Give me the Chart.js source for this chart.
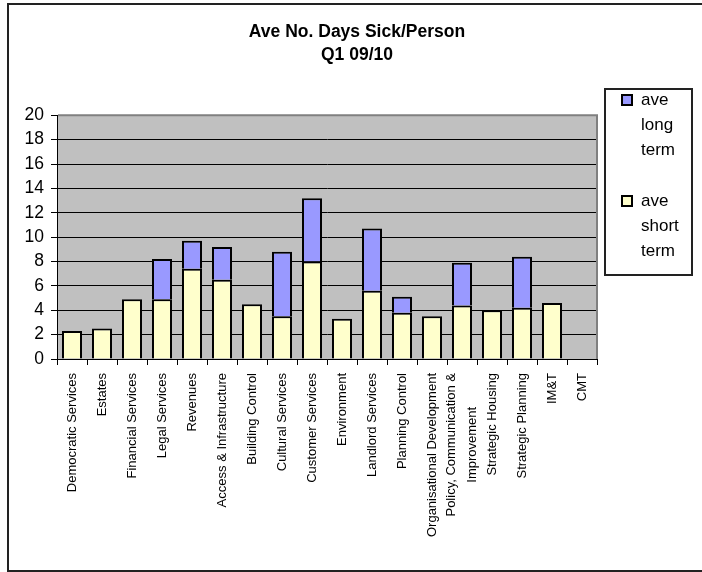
<!DOCTYPE html>
<html lang="en">
<head>
    <meta charset="UTF-8">
    <title>Ave No. Days Sick/Person</title>
    <script src="https://cdn.jsdelivr.net/npm/chart.js"></script>
    <style>
        html, body { margin: 0; padding: 0; background: #fff; }
        canvas { display: block; }
    </style>
</head>
<body>
    <canvas id="chartCanvas" width="702" height="572"></canvas>

    <script>
        // Service areas (multi-line names are arrays)
        const services = [
            "Democratic Services", "Estates", "Financial Services", "Legal Services",
            "Revenues", "Access & Infrastructure", "Building Control", "Cultural Services",
            "Customer Services", "Environment", "Landlord Services", "Planning Control",
            "Organisational Development", ["Policy, Communication &", "Improvement"],
            "Strategic Housing", "Strategic Planning", "IM&T", "CMT"
        ];

        // average days per person, Q1 09/10
        const shortTerm = [2.3, 2.5, 4.9, 4.9, 7.4, 6.5, 4.5, 3.5, 8.0, 3.3, 5.6, 3.8, 3.5, 4.4, 4.0, 4.2, 4.6, 0];
        const longTerm  = [0,   0,   0,   3.3, 2.3, 2.7, 0,   5.3, 5.2, 0,   5.1, 1.3, 0,   3.5, 0,   4.2, 0,   0];

        const yTicks = [0, 2, 4, 6, 8, 10, 12, 14, 16, 18, 20];

        const titleLines = ["Ave No. Days Sick/Person", "Q1 09/10"];
        const legendLines = {
            long: ["ave", "long", "term"],
            short: ["ave", "short", "term"]
        };

        const FONT = "'Liberation Sans', Arial, sans-serif";
        const SHORT_COLOR = '#FFFFCC';
        const LONG_COLOR = '#9999FF';

        // background, frame, legend and rotated category names
        const sheetPlugin = {
            id: 'sheet',
            beforeDraw(chart) {
                const { ctx, chartArea: a } = chart;
                ctx.save();
                ctx.fillStyle = '#fff';
                ctx.fillRect(0, 0, chart.width, chart.height);
                ctx.fillStyle = '#C0C0C0';
                ctx.fillRect(a.left, a.top, a.right - a.left, a.bottom - a.top);
                ctx.restore();
            },
            afterDraw(chart) {
                const { ctx, chartArea: a } = chart;
                ctx.save();

                // plot area edge, top and right
                ctx.strokeStyle = '#808080';
                ctx.lineWidth = 2;
                ctx.beginPath();
                ctx.moveTo(a.left + 1, a.top);
                ctx.lineTo(a.right, a.top);
                ctx.lineTo(a.right, a.bottom);
                ctx.stroke();

                // outer frame
                ctx.strokeStyle = '#222';
                ctx.lineWidth = 2;
                ctx.strokeRect(8, 4, 720, 567);

                // category names, read bottom to top
                const xs = chart.scales.x;
                ctx.fillStyle = '#000';
                ctx.font = '13px ' + FONT;
                ctx.textBaseline = 'middle';
                ctx.textAlign = 'center';
                const lh = 21;
                services.forEach((name, i) => {
                    const lines = Array.isArray(name) ? name : [name];
                    const w = Math.max(...lines.map(l => ctx.measureText(l).width));
                    ctx.save();
                    ctx.translate(xs.getPixelForTick(i), a.bottom + 14);
                    ctx.rotate(-Math.PI / 2);
                    lines.forEach((l, j) => {
                        ctx.fillText(l, -w / 2, (j - (lines.length - 1) / 2) * lh);
                    });
                    ctx.restore();
                });

                // legend
                const bx = 605, by = 89, bw = 87, bh = 186;
                ctx.strokeStyle = '#222';
                ctx.lineWidth = 2;
                ctx.strokeRect(bx, by, bw, bh);
                ctx.font = '17px ' + FONT;
                ctx.textAlign = 'left';
                const entries = [
                    { color: chart.data.datasets[1].backgroundColor, lines: legendLines.long, y: 100 },
                    { color: chart.data.datasets[0].backgroundColor, lines: legendLines.short, y: 201 }
                ];
                entries.forEach(e => {
                    ctx.fillStyle = e.color;
                    ctx.fillRect(622, e.y - 5, 10, 10);
                    ctx.strokeStyle = '#000';
                    ctx.lineWidth = 2;
                    ctx.strokeRect(622, e.y - 5, 10, 10);
                    ctx.fillStyle = '#000';
                    e.lines.forEach((l, j) => ctx.fillText(l, 641, e.y + j * 25));
                });

                ctx.restore();
            }
        };

        const ctx = document.getElementById('chartCanvas').getContext('2d');
        new Chart(ctx, {
            type: 'bar',
            data: {
                labels: services,
                datasets: [
                    {
                        label: 'ave short term',
                        data: shortTerm,
                        backgroundColor: SHORT_COLOR,
                        borderColor: '#000',
                        borderWidth: 2,
                        barPercentage: 0.667,
                        categoryPercentage: 1
                    },
                    {
                        label: 'ave long term',
                        data: longTerm,
                        backgroundColor: LONG_COLOR,
                        borderColor: '#000',
                        borderWidth: 2,
                        barPercentage: 0.667,
                        categoryPercentage: 1
                    }
                ]
            },
            options: {
                responsive: false,
                animation: false,
                devicePixelRatio: 1,
                layout: { padding: { left: 12, right: 0, top: 0, bottom: 0 } },
                scales: {
                    x: {
                        stacked: true,
                        grid: {
                            display: true,
                            offset: true,
                            drawOnChartArea: false,
                            drawTicks: true,
                            tickLength: 6,
                            color: '#000'
                        },
                        border: { display: true, color: '#000', width: 1 },
                        ticks: { display: false },
                        afterFit(s) { s.height = 213; }
                    },
                    y: {
                        stacked: true,
                        min: 0,
                        max: 20,
                        afterBuildTicks(s) { s.ticks = yTicks.map(v => ({ value: v })); },
                        grid: { color: '#000', lineWidth: 1, tickLength: 6 },
                        border: { display: true, color: '#000', width: 1 },
                        ticks: {
                            color: '#000',
                            padding: 7,
                            font: { family: FONT, size: 17.5 }
                        },
                        afterFit(s) { s.width = 45; }
                    },
                    // room on the right for the legend box
                    legendRoom: {
                        type: 'linear',
                        position: 'right',
                        display: true,
                        grid: { display: false },
                        border: { display: false },
                        ticks: { display: false },
                        afterFit(s) { s.width = 105; }
                    }
                },
                plugins: {
                    legend: { display: false },
                    tooltip: { enabled: false },
                    title: {
                        display: true,
                        text: titleLines,
                        color: '#000',
                        font: { family: FONT, size: 17.5, weight: 'bold', lineHeight: 1.35 },
                        padding: { top: 20, bottom: 48 }
                    }
                }
            },
            plugins: [sheetPlugin]
        });
    </script>
</body>
</html>
